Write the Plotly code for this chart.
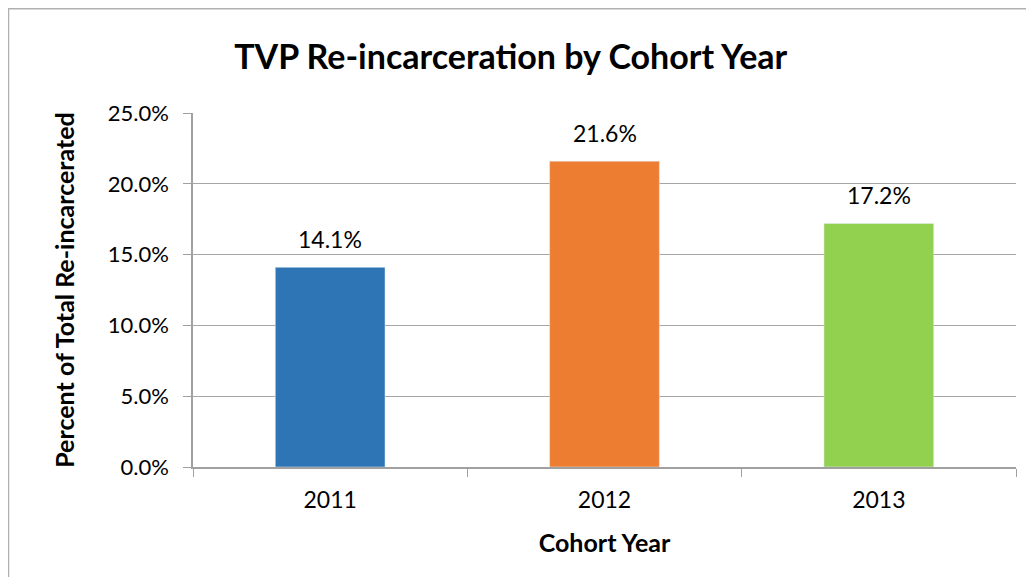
import plotly.graph_objects as go

years = ["2011", "2012", "2013"]
rates = [14.1, 21.6, 17.2]
colors = ["#2E75B6", "#ED7D31", "#92D050"]
labels = ["14.1%", "21.6%", "17.2%"]

# page has an 8px body margin, so the figure is a bit smaller
W, H = 1026, 569
L, R, T, B = 185, 18, 105, 110
pw, ph = W - L - R, H - T - B

fig = go.Figure(go.Bar(
    x=years, y=rates, marker_color=colors, width=0.4,
))

# value labels above bars (category index, since "2011" reads as a number)
for i, (v, lab) in enumerate(zip(rates, labels)):
    fig.add_annotation(x=i, y=v, text=lab, showarrow=False,
                       yanchor="bottom", yshift=12, font=dict(size=23))

# chart frame edge on the left/top
fig.add_shape(type="rect", xref="paper", yref="paper", layer="below",
              x0=-L / pw + 0.0006, x1=(W + 10 - L) / pw,
              y0=-(B + 10) / ph, y1=1 + (T - 0.8) / ph,
              line=dict(color="#B0B0B0", width=1.5), fillcolor="rgba(0,0,0,0)")

fig.update_layout(
    width=W, height=H,
    margin=dict(l=L, r=R, t=T, b=B, autoexpand=False),
    paper_bgcolor="white", plot_bgcolor="white",
    font=dict(family="Lato, Open Sans, sans-serif", color="#000000"),
    title=dict(text="<b>TVP Re-incarceration by Cohort Year</b>",
               x=0.49, xref="container", xanchor="center",
               y=1 - 49 / H, yref="container", yanchor="middle",
               font=dict(size=34)),
    showlegend=False,
    bargap=0.6,
)
fig.update_xaxes(
    type="category", tickangle=0, range=[-0.5, 2.5],
    showline=True, linecolor="#A0A0A0", linewidth=1.5,
    ticks="outside", tickson="boundaries", ticklen=8, tickcolor="#A0A0A0",
    tickfont=dict(size=23), ticklabelstandoff=12,
    title=dict(text="<b>Cohort Year</b>", font=dict(size=25), standoff=22),
)
fig.update_yaxes(
    range=[0, 25], dtick=5, tickformat=".1f", ticksuffix="%",
    showgrid=True, gridcolor="#A6A6A6", gridwidth=1.2,
    showline=True, linecolor="#A0A0A0", linewidth=1.5,
    ticks="outside", ticklen=8, tickcolor="#A0A0A0",
    tickfont=dict(size=22), ticklabelstandoff=10, zeroline=False,
    title=dict(text="<b>Percent of Total Re-incarcerated</b>", font=dict(size=25), standoff=26),
)

fig.write_html("out.html")
